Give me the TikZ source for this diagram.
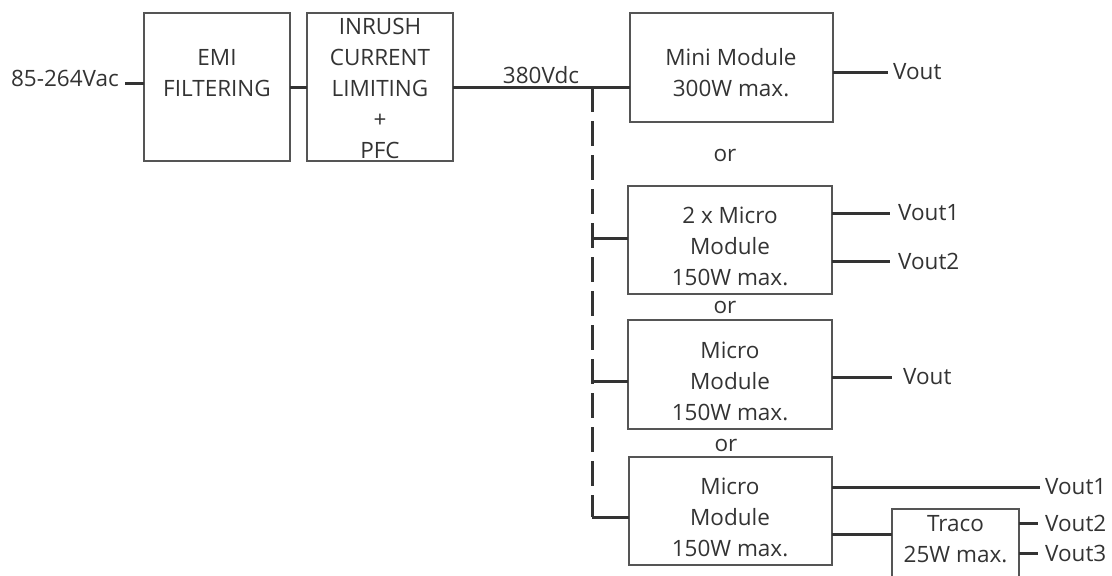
\documentclass[tikz,border=0pt]{standalone}
\usepackage{fontspec}
\setmainfont{Open Sans}
\definecolor{txtc}{HTML}{333333}
\definecolor{wirec}{HTML}{333333}
\definecolor{boxc}{HTML}{555555}
\begin{document}
\begin{tikzpicture}[x=1pt,y=-1pt,
  every node/.style={font=\fontsize{22.5}{31}\selectfont, text=txtc},
  box/.style={draw=boxc, line width=1.4pt, inner sep=0pt, outer sep=0pt},
  lbl/.style={inner sep=0pt, align=center},
  outl/.style={anchor=west, inner ysep=0pt, inner xsep=5pt},
  wire/.style={draw=wirec, line width=3pt},
  bus/.style={draw=wirec, line width=3pt, dash pattern=on 25pt off 9pt}]
\useasboundingbox (0,0) rectangle (1112,576);
\clip (0,0) rectangle (1112,576);
% boxes
\node[box, minimum width=146pt, minimum height=148pt] (emi) at (217,87) {};
\node[box, minimum width=146pt, minimum height=148pt] (pfc) at (380,87) {};
\node[box, minimum width=203pt, minimum height=109pt] (mini) at (731.5,67.5) {};
\node[box, minimum width=204pt, minimum height=108pt] (m2) at (730,240) {};
\node[box, minimum width=204pt, minimum height=109pt] (m3) at (730,374.5) {};
\node[box, minimum width=203pt, minimum height=108pt] (m4) at (730.5,511) {};
\node[box, minimum width=127pt, minimum height=100pt] (traco) at (955.5,559) {};
% box texts
\node[lbl] (temi) at (217,73.5) {EMI\\FILTERING};
\node[lbl] (tpfc) at (380,88.3) {INRUSH\\CURRENT\\LIMITING\\+\\PFC};
\node[lbl] (tmini) at (731,73) {Mini Module\\300W max.};
\node[lbl] (tm2) at (730,246) {2 x Micro\\Module\\150W max.};
\node[lbl] (tm3) at (730,381) {Micro\\Module\\150W max.};
\node[lbl] (tm4) at (730,517.5) {Micro\\Module\\150W max.};
\node[lbl] (ttraco) at (955.5,539) {Traco\\25W max.};
% free texts
\node[inner sep=0pt, anchor=east] (vin) at (119,78) {85-264Vac};
\node[inner sep=0pt] (vdc) at (541,75) {380Vdc};
\node[inner sep=0pt] (or1) at (725,155) {or};
\node[inner sep=0pt] (or2) at (725,307) {or};
\node[inner sep=0pt] (or3) at (726,445) {or};
% outputs
\node[outl] (v0) at (888,72) {Vout};
\node[outl, inner xsep=8pt] (v21) at (890,213) {Vout1};
\node[outl, inner xsep=8pt] (v22) at (890,261) {Vout2};
\node[outl, inner xsep=11pt] (v3) at (892,377) {Vout};
\node[outl, inner xsep=5pt] (v41) at (1040,487) {Vout1};
\node[outl, inner xsep=7pt] (v42) at (1038,523) {Vout2};
\node[outl, inner xsep=7pt] (v43) at (1038,553) {Vout3};
% input chain
\coordinate (inL) at (125,83);
\draw[wire] (inL) -- (inL -| emi.west);
\draw[wire] (emi.east) -- (pfc.west);
\draw[wire] (pfc.east) -- (pfc.east -| mini.west);
% bus
\coordinate (bt) at (592,87);
\coordinate (bb) at (592,517);
\coordinate (s2) at (592,238);
\coordinate (s3) at (592,381);
\draw[bus] (bt) -- (bb);
\draw[wire] (bb) -- (bb -| m4.west);
\draw[wire] (s2) -- (s2 -| m2.west);
\draw[wire] (s3) -- (s3 -| m3.west);
% output wires
\draw[wire] (v0.west -| mini.east) -- (v0.west);
\draw[wire] (v21.west -| m2.east) -- (v21.west);
\draw[wire] (v22.west -| m2.east) -- (v22.west);
\draw[wire] (v3.west -| m3.east) -- (v3.west);
\draw[wire] (v41.west -| m4.east) -- (v41.west);
\coordinate (tr) at (892,534);
\draw[wire] (tr -| m4.east) -- (tr -| traco.west);
\draw[wire] (v42.west -| traco.east) -- (v42.west);
\draw[wire] (v43.west -| traco.east) -- (v43.west);
\end{tikzpicture}
\end{document}
